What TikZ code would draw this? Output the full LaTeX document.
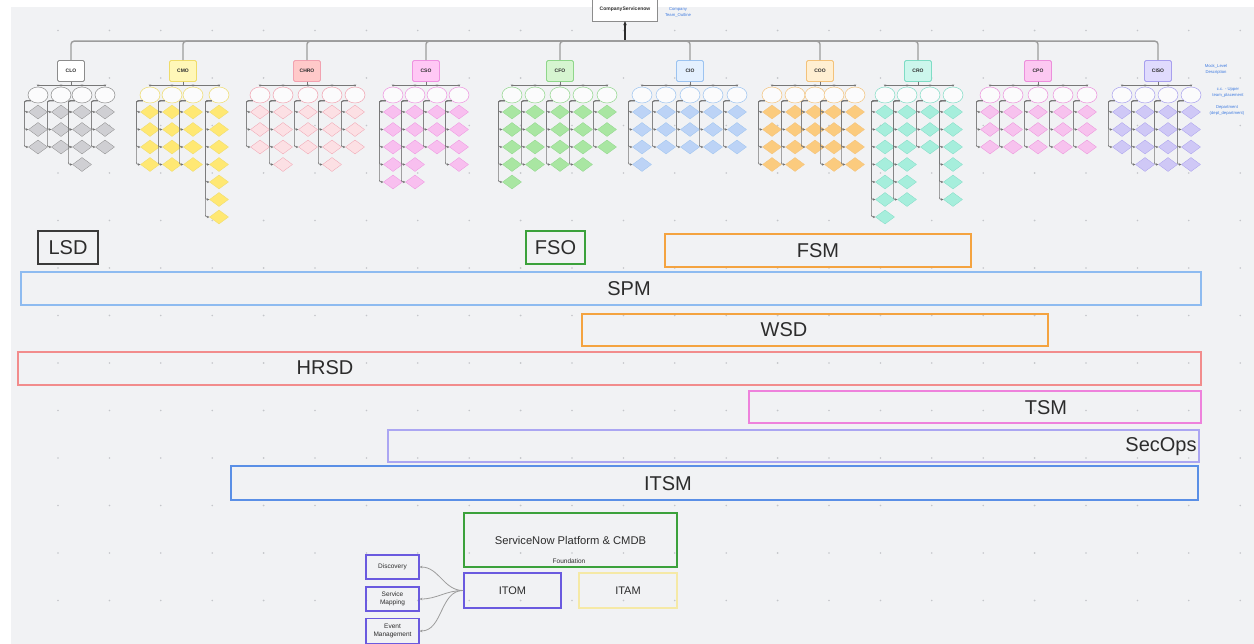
\documentclass[tikz,border=0pt]{standalone}
\usepackage{fontspec}
\setmainfont{Liberation Sans}
\usepackage{xcolor}
\usepackage{tikz}
\usetikzlibrary{arrows.meta,shapes.geometric}

\definecolor{canvas}{HTML}{F1F2F4}
\definecolor{dotc}{HTML}{C4C6CA}
\definecolor{ink}{HTML}{2C2C2C}
\definecolor{notec}{HTML}{3F7BE0}
\definecolor{busgray}{HTML}{9C9C9C}
\definecolor{kidgray}{HTML}{777777}
% area colours
\definecolor{lsdc}{HTML}{3A3A3A}
\definecolor{fsoc}{HTML}{3BA13B}
\definecolor{fsmc}{HTML}{F4A340}
\definecolor{spmc}{HTML}{8EBBF0}
\definecolor{hrsdc}{HTML}{F28C8C}
\definecolor{tsmc}{HTML}{EE82DC}
\definecolor{secc}{HTML}{ABA6F2}
\definecolor{itsmc}{HTML}{5A8FE6}
\definecolor{itomc}{HTML}{6A5ADF}
\definecolor{itamc}{HTML}{F5E9A6}
% org chart colours: fill / line / diamond
\definecolor{clofill}{HTML}{FFFFFF}\definecolor{cloline}{HTML}{8C8C8C}\definecolor{clodia}{HTML}{CFCFD3}
\definecolor{cmofill}{HTML}{FFF7B8}\definecolor{cmoline}{HTML}{EFDC6A}\definecolor{cmodia}{HTML}{FFE873}
\definecolor{chrofill}{HTML}{FFC9C9}\definecolor{chroline}{HTML}{F1A2B0}\definecolor{chrodia}{HTML}{FCE0E4}
\definecolor{csofill}{HTML}{FFC8F5}\definecolor{csoline}{HTML}{EE92E0}\definecolor{csodia}{HTML}{F8BFEF}
\definecolor{cfofill}{HTML}{D6F5D0}\definecolor{cfoline}{HTML}{8FD68A}\definecolor{cfodia}{HTML}{A9E6A2}
\definecolor{ciofill}{HTML}{E4F0FE}\definecolor{cioline}{HTML}{9CC3F0}\definecolor{ciodia}{HTML}{BCD3F6}
\definecolor{coofill}{HTML}{FFEFD2}\definecolor{cooline}{HTML}{F3C27A}\definecolor{coodia}{HTML}{FBCB7E}
\definecolor{crofill}{HTML}{CCF6EC}\definecolor{croline}{HTML}{7FDCC5}\definecolor{crodia}{HTML}{A6EEDC}
\definecolor{cpofill}{HTML}{FCC8F1}\definecolor{cpoline}{HTML}{EC8FDB}\definecolor{cpodia}{HTML}{F7C2EE}
\definecolor{cisofill}{HTML}{E0DBFD}\definecolor{cisoline}{HTML}{A8A0EE}\definecolor{cisodia}{HTML}{CFC8F6}

\tikzset{
  area/.style={draw=#1, line width=1.3pt},
  areatext/.style={anchor=base, inner sep=0pt, text=ink, font=\fontsize{20}{24}\selectfont},
  execbox/.style={draw=#1line, fill=#1fill, rounded corners=1.5pt, line width=0.8pt,
    minimum width=27pt, minimum height=21pt, inner sep=0pt, text=ink,
    font=\fontsize{5}{6}\selectfont\bfseries},
  kidoval/.style={ellipse, draw=#1line, fill=white!70!canvas, line width=0.5pt,
    minimum width=20pt, minimum height=16pt, inner sep=0pt},
  kidgem/.style={diamond, draw=#1line, fill=#1dia, line width=0.3pt,
    minimum width=19pt, minimum height=14pt, inner sep=0pt},
  topline/.style={draw=busgray, line width=1.4pt, rounded corners=3pt},
  kidline/.style={draw=kidgray, line width=0.7pt, -{Stealth[length=2.4pt,width=2.4pt]}},
  basebox/.style={draw=#1, line width=2pt, inner sep=0pt, text=ink},
  leafbox/.style={draw=itomc, line width=1.5pt, minimum width=53pt, minimum height=24pt,
    inner sep=0pt, align=center, text=ink, font=\fontsize{6.5}{8}\selectfont},
  leafline/.style={draw=busgray, line width=0.8pt, -{Stealth[length=2.5pt,width=2.5pt]}},
  note/.style={align=center, inner sep=0pt, text=notec, font=\fontsize{4.2}{6}\selectfont}
}

% one executive with its columns: id, label, x, colour, {x/count,...}
\newcommand{\orggroup}[5]{%
  \node[execbox=#4] (#1) at (#3,71) {#2};
  \draw[topline] (#1.north) |- ([yshift=-20pt]root.south);
  \foreach \cx/\nk [count=\ci] in {#5} {
    \node[kidoval=#4] (#1-\ci) at (\cx,95) {};
    \draw[kidline] (#1.south) -- ++(0,3) -| (#1-\ci.north);
    \foreach \k in {1,...,\nk}
      \node[kidgem=#4] (#1-\ci-\k) at (\cx,{112+17.5*(\k-1)}) {};
    \foreach \k in {1,...,\nk}
      \draw[kidline, rounded corners=2pt] (#1-\ci.south west) -| ([xshift=-4pt]#1-\ci-\k.west) -- (#1-\ci-\k.west);
  }%
}

\begin{document}
\begin{tikzpicture}[x=1pt,y=-1pt]
  \useasboundingbox (0,0) rectangle (1254,644);
  \fill[white] (0,0) rectangle (1254,644);
  \fill[canvas] (11,7) rectangle (1254,644);
  \foreach \i in {0,...,23}
    \foreach \j in {0,...,12}
      \fill[dotc] ({58+51.4*\i},{30.5+47.5*\j}) circle (0.9pt);

  % ------- org chart -------
  \node[draw=cloline, fill=white, minimum width=65pt, minimum height=23pt, inner sep=0pt,
    text=ink, font=\fontsize{5}{6}\selectfont\bfseries] (root) at (625,9.5) {CompanyServicenow};
  \node[note] (rootnote) at (678,12) {Company\\Team\_Outline};
  \draw[draw=ink, line width=1.5pt, -{Stealth[length=4pt,width=3.5pt]}]
    ([yshift=-20pt]root.south) -- (root.south);

  \orggroup{clo}{CLO}{71}{clo}{38/3,61/3,82/4,105/3}
  \orggroup{cmo}{CMO}{183}{cmo}{150/4,172/4,193/4,219/7}
  \orggroup{chro}{CHRO}{307}{chro}{260/3,283/4,308/3,332/4,355/3}
  \orggroup{cso}{CSO}{426}{cso}{393/5,415/5,437/3,459/4}
  \orggroup{cfo}{CFO}{560}{cfo}{512/5,535/4,560/4,583/4,607/3}
  \orggroup{cio}{CIO}{690}{cio}{642/4,666/3,690/3,713/3,737/3}
  \orggroup{coo}{COO}{820}{coo}{772/4,795/4,815/3,834/4,855/4}
  \orggroup{cro}{CRO}{918}{cro}{885/7,907/6,930/3,953/6}
  \orggroup{cpo}{CPO}{1038}{cpo}{990/3,1013/3,1038/3,1063/3,1087/3}
  \orggroup{ciso}{CISO}{1158}{ciso}{1122/3,1145/4,1168/4,1191/4}

  \node[note] (note-a) at (1216,69) {Mock\_Level\\Description};
  \node[note] (note-b) at (1228,92) {c.c. - Upper\\team\_placement};
  \node[note] (note-c) at (1227,110) {Department\\(dept\_department)};

  % ------- service areas -------
  \draw[area=lsdc] (38,231) rectangle (98,264);
  \node[areatext] (lsd) at (68,254.5) {LSD};
  \draw[area=fsoc] (526,231) rectangle (585,264);
  \node[areatext] (fso) at (555.5,254.5) {FSO};
  \draw[area=fsmc] (665,234) rectangle (971,267);
  \node[areatext] (fsm) at (818,258) {FSM};
  \draw[area=spmc] (21,272) rectangle (1201,305);
  \node[areatext] (spm) at (629,296) {SPM};
  \draw[area=fsmc] (582,314) rectangle (1048,346);
  \node[areatext] (wsd) at (784,337) {WSD};
  \draw[area=hrsdc] (18,352) rectangle (1201,385);
  \node[areatext] (hrsd) at (325,375) {HRSD};
  \draw[area=tsmc] (749,391) rectangle (1201,423);
  \node[areatext] (tsm) at (1046,414) {TSM};
  \draw[area=secc] (388,430) rectangle (1199,462);
  \node[areatext] (secops) at (1161,452) {SecOps};
  \draw[area=itsmc, line width=1.6pt] (231,466) rectangle (1198,500);
  \node[areatext] (itsm) at (668,490) {ITSM};

  % ------- platform -------
  \node[basebox=fsoc, minimum width=213pt, minimum height=54pt, font=\fontsize{11.2}{13}\selectfont]
    (platform) at (570.5,540) {ServiceNow Platform \& CMDB};
  \node[inner sep=0pt, text=ink, font=\fontsize{6.5}{7}\selectfont] (found) at (569,561) {Foundation};
  \node[basebox=itomc, minimum width=97pt, minimum height=35pt, font=\fontsize{11}{13}\selectfont]
    (itom) at (512.5,590.5) {ITOM};
  \node[basebox=itamc, line width=1.5pt, minimum width=98pt, minimum height=35pt, font=\fontsize{11}{13}\selectfont]
    (itam) at (628,590.5) {ITAM};
  \node[leafbox] (disc) at (392.5,567) {Discovery};
  \node[leafbox] (smap) at (392.5,599) {Service\\Mapping};
  \node[leafbox, minimum height=25pt] (evm) at (392.5,631) {Event\\Management};
  \foreach \leaf in {disc,smap,evm}
    \draw[leafline] (itom.west) to[out=180,in=0] (\leaf.east);
\end{tikzpicture}
\end{document}
